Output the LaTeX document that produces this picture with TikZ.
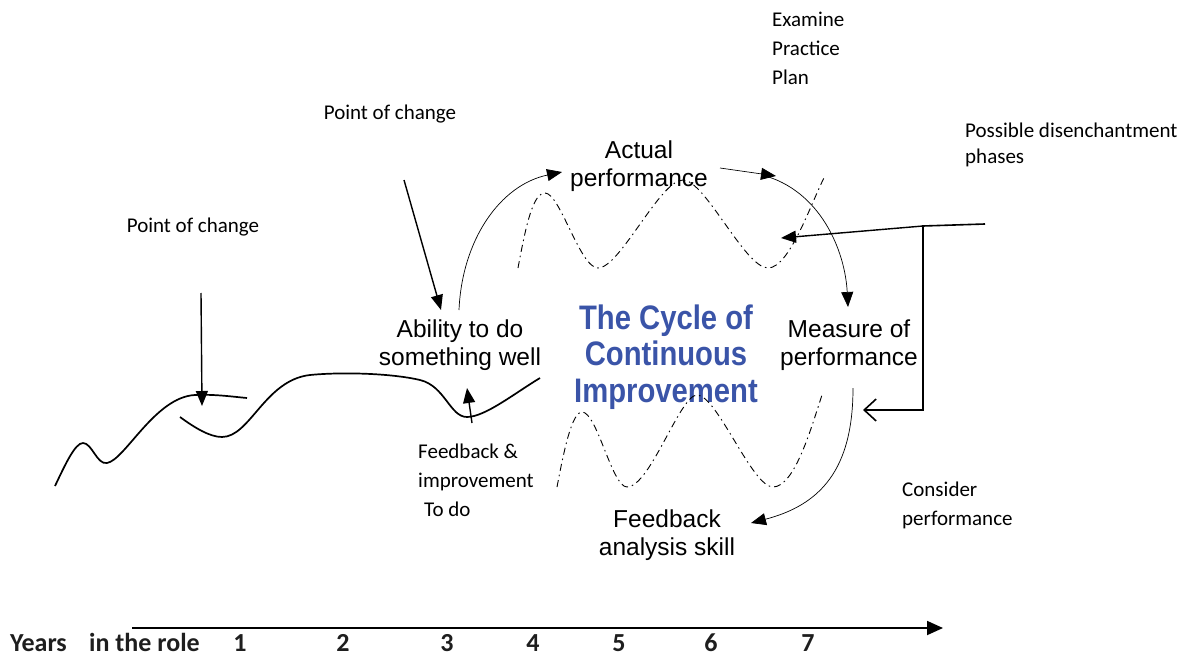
\documentclass[tikz,border=0pt]{standalone}
\usepackage{fontspec}
\setmainfont{Carlito}
\newfontfamily\cyclefont{Liberation Sans}
\newfontfamily\titlefont{Liberation Sans}[FakeStretch=0.86]
\usepackage{tikz}
\usetikzlibrary{arrows.meta}
\definecolor{titleblue}{RGB}{58,84,168}
\definecolor{yeargray}{RGB}{30,30,30}

\begin{document}
\begin{tikzpicture}[x=1pt,y=-1pt,
  note/.style={font=\fontsize{21}{29}\selectfont, align=left, inner sep=0pt},
  stage/.style={font=\cyclefont\fontsize{24.5}{27.5}\selectfont, align=center, inner sep=0pt},
  yearlbl/.style={font=\bfseries\fontsize{26}{30}\selectfont, text=yeargray, inner sep=0pt},
  wave/.style={line width=0.9pt, dash pattern=on 7pt off 4pt on 1.5pt off 4pt},
  loop/.style={line width=0.7pt, -{Triangle[length=15pt,width=12pt]}},
  pointer/.style={line width=1.4pt, -{Triangle[length=15pt,width=12pt]}},
  trend/.style={line width=1.7pt},
]
\useasboundingbox (0,0) rectangle (1194,658);

% labels round the cycle
\node[note, anchor=west] (steps) at (772,48) {Examine\\Practice\\Plan};
\node[note] (change2) at (390,114) {Point of change};
\node[note, anchor=west, font=\fontsize{21}{26}\selectfont] (disench) at (965,145) {Possible disenchantment\\phases};
\node[note] (change1) at (193,227) {Point of change};
\node[note, anchor=west] (fbimp) at (418,480) {Feedback \&\\improvement\\\hspace*{6pt}To do};
\node[note, anchor=west] (consider) at (902,505) {Consider\\performance};

\node[stage] (actual) at (639,166) {Actual\\performance};
\node[stage] (ability) at (460,345) {Ability to do\\something well};
\node[stage] (measure) at (849,345) {Measure of\\performance};
\node[stage] (fbskill) at (667,535) {Feedback\\analysis skill};
\node[font=\titlefont\bfseries\fontsize{34}{36.5}\selectfont, text=titleblue, align=center, inner sep=0pt] (title) at (666,357)
  {The Cycle of\\Continuous\\Improvement};

% dash-dot waves
\draw[wave] (518,268) .. controls (526,225) and (533,193) .. (545,193)
  .. controls (560,193) and (580,268) .. (598,268)
  .. controls (620,268) and (660,180) .. (683,180)
  .. controls (705,180) and (745,268) .. (768,268)
  .. controls (790,268) and (812,200) .. (825,176);
\draw[wave] (557,487) .. controls (564,450) and (572,412) .. (582,412)
  .. controls (597,412) and (612,487) .. (627,487)
  .. controls (650,487) and (680,395) .. (697,395)
  .. controls (717,395) and (752,487) .. (773,487)
  .. controls (795,487) and (812,425) .. (822,395);

% performance over the years
\draw[trend] (55,486) .. controls (65,465) and (75,443) .. (83,443)
  .. controls (92,443) and (97,465) .. (107,463)
  .. controls (125,460) and (155,397) .. (195,395)
  .. controls (215,394) and (235,397) .. (247,398);
\draw[trend] (180,417) .. controls (195,428) and (210,437) .. (222,437)
  .. controls (250,437) and (265,380) .. (310,375)
  .. controls (340,372) and (390,373) .. (420,380)
  .. controls (445,386) and (450,417) .. (467,417)
  .. controls (485,417) and (515,393) .. (540,378);

% the cycle
\coordinate (abTop) at (459,310);
\coordinate (acIn) at (562,172);
\coordinate (acOut) at (720,168);
\coordinate (acMid) at (776,176);
\coordinate (meIn) at (848,307);
\coordinate (meOut) at (853,388);
\coordinate (fsIn) at (751,523);
\draw[loop] (abTop) .. controls (462,240) and (500,185) .. (acIn);
\draw[loop] (acOut) -- (acMid);
\draw[loop] (762,175) .. controls (820,190) and (845,250) .. (meIn);
\draw[loop] (meOut) .. controls (853,470) and (820,505) .. (fsIn);

% pointers
\coordinate (pc2a) at (404,180);
\coordinate (pc2b) at (441,310);
\coordinate (pc1a) at (201,293);
\coordinate (pc1b) at (202,406);
\coordinate (fbA) at (472,423);
\coordinate (fbB) at (467,388);
\draw[pointer] (pc2a) -- (pc2b);
\draw[pointer] (pc1a) -- (pc1b);
\draw[pointer] (fbA) -- (fbB);

\coordinate (dsA) at (985,224);
\coordinate (dsB) at (923,226);
\coordinate (dsC) at (923,410);
\coordinate (dsEnd) at (863,410);
\coordinate (dsTip) at (781,238);
\draw[line width=1.6pt, -{Straight Barb[length=12pt,width=22pt,line width=1.6pt]}] (dsA) -- (dsB) -- (dsC) -- (dsEnd);
\draw[pointer] (dsB) -- (dsTip);

% years axis
\coordinate (ax0) at (132,628);
\coordinate (ax1) at (943,628);
\draw[line width=1.8pt, -{Triangle[length=16pt,width=14pt]}] (ax0) -- (ax1);
\node[yearlbl, anchor=base west] (years) at (10,651) {Years};
\node[yearlbl, anchor=base west] (inrole) at (89,651) {in the role};
\foreach \yr/\xx in {1/240,2/343,3/447,4/533,5/619,6/711,7/808}
  \node[yearlbl, anchor=base] (yr\yr) at (\xx,651) {\yr};

\end{tikzpicture}
\end{document}
